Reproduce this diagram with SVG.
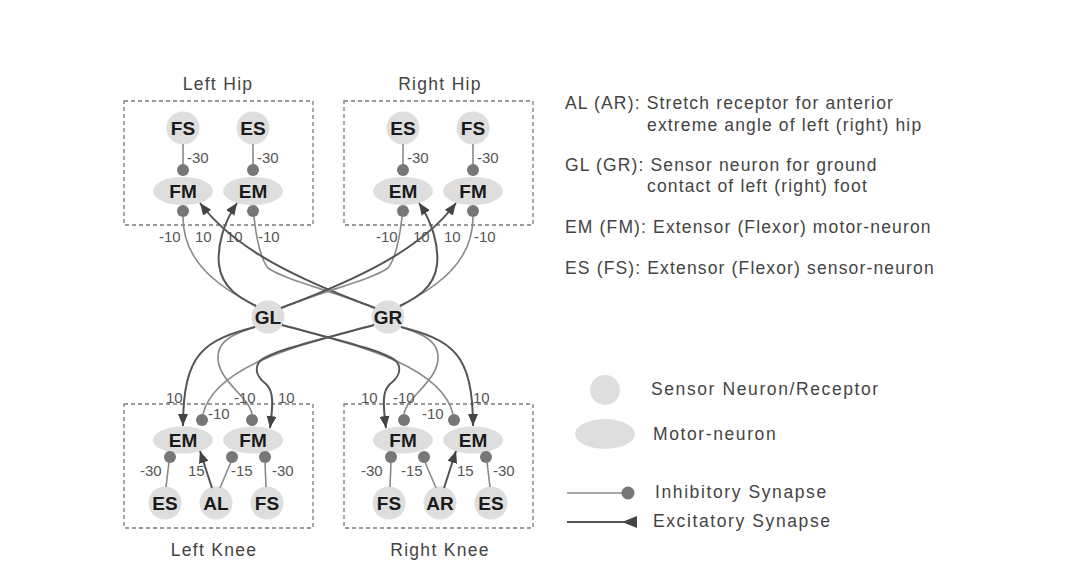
<svg xmlns="http://www.w3.org/2000/svg" xmlns:xlink="http://www.w3.org/1999/xlink" width="1065" height="583" viewBox="0 0 1065 583">
<defs>
<style>
.box{fill:none;stroke:#7a7a7a;stroke-width:1.3;stroke-dasharray:4 3}
.node{fill:#dedede}
.nl{font-family:"Liberation Sans",Arial,sans-serif;font-weight:bold;font-size:19px;fill:#1a1a1a;text-anchor:middle}
.w{font-family:"Liberation Sans",Arial,sans-serif;font-size:15px;fill:#555}
.ti{font-family:"Liberation Sans",Arial,sans-serif;font-size:17.5px;fill:#444;letter-spacing:1.3px;text-anchor:middle}
.t{font-family:"Liberation Sans",Arial,sans-serif;font-size:17.5px;fill:#444;letter-spacing:1.15px}
.lg{font-family:"Liberation Sans",Arial,sans-serif;font-size:17.5px;fill:#444;letter-spacing:1.6px}
.ex{fill:none;stroke:#555;stroke-width:2}
.in{fill:none;stroke:#8a8a8a;stroke-width:1.6}
.dot{fill:#777}
</style>
<marker id="arr" markerUnits="userSpaceOnUse" markerWidth="13" markerHeight="11" refX="12" refY="5" orient="auto">
<path d="M0,0 L12,5 L0,10 z" fill="#444"/>
</marker>
</defs>
<rect width="1065" height="583" fill="#fff"/>

<g id="boxes">
<rect class="box" x="124" y="101" width="189" height="124"/>
<rect class="box" x="344" y="101" width="189" height="124"/>
<rect class="box" x="124" y="404" width="189" height="124"/>
<rect class="box" x="344" y="404" width="189" height="124"/>
<text class="ti" x="218" y="90">Left Hip</text>
<text class="ti" x="440" y="90">Right Hip</text>
<text class="ti" x="214" y="556">Left Knee</text>
<text class="ti" x="440" y="556">Right Knee</text>
</g>

<g id="lh-fs"><circle class="node" cx="183" cy="128" r="16.5"/><text class="nl" x="183" y="135">FS</text></g>
<g id="lh-es"><circle class="node" cx="253" cy="128" r="16.5"/><text class="nl" x="253" y="135">ES</text></g>
<g id="lh-fm"><ellipse class="node" cx="183" cy="191" rx="30" ry="14"/><text class="nl" x="183" y="198">FM</text></g>
<g id="lh-em"><ellipse class="node" cx="253" cy="191" rx="30" ry="14"/><text class="nl" x="253" y="198">EM</text></g>
<g id="rh-es"><circle class="node" cx="403" cy="128" r="16.5"/><text class="nl" x="403" y="135">ES</text></g>
<g id="rh-fs"><circle class="node" cx="473" cy="128" r="16.5"/><text class="nl" x="473" y="135">FS</text></g>
<g id="rh-em"><ellipse class="node" cx="403" cy="191" rx="30" ry="14"/><text class="nl" x="403" y="198">EM</text></g>
<g id="rh-fm"><ellipse class="node" cx="473" cy="191" rx="30" ry="14"/><text class="nl" x="473" y="198">FM</text></g>
<g id="gl"><circle class="node" cx="268" cy="317" r="16.5"/><text class="nl" x="268" y="324">GL</text></g>
<g id="gr"><circle class="node" cx="388" cy="317" r="16.5"/><text class="nl" x="388" y="324">GR</text></g>
<g id="lk-em"><ellipse class="node" cx="183" cy="440" rx="30" ry="13.5"/><text class="nl" x="183" y="447">EM</text></g>
<g id="lk-fm"><ellipse class="node" cx="253" cy="440" rx="30" ry="13.5"/><text class="nl" x="253" y="447">FM</text></g>
<g id="lk-es"><circle class="node" cx="165" cy="503" r="16.5"/><text class="nl" x="165" y="510">ES</text></g>
<g id="lk-al"><circle class="node" cx="216" cy="503" r="16.5"/><text class="nl" x="216" y="510">AL</text></g>
<g id="lk-fs"><circle class="node" cx="267" cy="503" r="16.5"/><text class="nl" x="267" y="510">FS</text></g>
<g id="rk-fm"><ellipse class="node" cx="403" cy="440" rx="30" ry="13.5"/><text class="nl" x="403" y="447">FM</text></g>
<g id="rk-em"><ellipse class="node" cx="473" cy="440" rx="30" ry="13.5"/><text class="nl" x="473" y="447">EM</text></g>
<g id="rk-fs"><circle class="node" cx="389" cy="503" r="16.5"/><text class="nl" x="389" y="510">FS</text></g>
<g id="rk-ar"><circle class="node" cx="440" cy="503" r="16.5"/><text class="nl" x="440" y="510">AR</text></g>
<g id="rk-es"><circle class="node" cx="491" cy="503" r="16.5"/><text class="nl" x="491" y="510">ES</text></g>

<g id="connectors">
<g id="conn-left">
<line class="in" x1="183" y1="144" x2="183" y2="165"/><circle class="dot" cx="183" cy="170" r="6"/>
<line class="in" x1="253" y1="144" x2="253" y2="165"/><circle class="dot" cx="253" cy="170" r="6"/>
<path class="in" d="M183,217 C183,260 215,285 256,306"/>
<path class="ex" d="M256,306 C240,298 222,288 219,265 C217,245 224,222 237,203" marker-end="url(#arr)"/>
<path class="in" d="M375,308 C330,290 285,280 268,268 C260,258 256,235 254,217"/>
<path class="ex" d="M375,308 C300,280 235,250 200,203" marker-end="url(#arr)"/>
<circle class="dot" cx="183" cy="211" r="6"/>
<circle class="dot" cx="253" cy="211" r="6"/>
<path class="in" d="M255,327 C238,333 220,338 218,355 C216,380 248,395 252,414"/>
<path class="ex" d="M255,327 C205,340 183,352 183,426" marker-end="url(#arr)"/>
<path class="in" d="M374,325 C300,345 215,365 203,414"/>
<path class="ex" d="M374,325 C310,342 268,352 259,362 C254,370 258,378 266,384 C274,391 273,405 270,428" marker-end="url(#arr)"/>
<circle class="dot" cx="202" cy="420" r="6"/>
<circle class="dot" cx="252" cy="420" r="6"/>
<line class="in" x1="166" y1="487" x2="169" y2="462"/><circle class="dot" cx="170" cy="457" r="6"/>
<line class="ex" x1="212" y1="488" x2="200" y2="451" marker-end="url(#arr)"/>
<line class="in" x1="220" y1="488" x2="231" y2="462"/><circle class="dot" cx="232" cy="457" r="6"/>
<line class="in" x1="266" y1="487" x2="265" y2="462"/><circle class="dot" cx="265" cy="457" r="6"/>
</g>
<use href="#conn-left" xlink:href="#conn-left" transform="matrix(-1 0 0 1 656 0)"/>
</g>

<g id="weights">
<text class="w" x="187" y="163">-30</text>
<text class="w" x="257" y="163">-30</text>
<text class="w" x="407" y="163">-30</text>
<text class="w" x="477" y="163">-30</text>
<text class="w" x="159" y="242">-10</text>
<text class="w" x="195" y="242">10</text>
<text class="w" x="226" y="242">10</text>
<text class="w" x="258" y="242">-10</text>
<text class="w" x="376" y="242">-10</text>
<text class="w" x="413" y="242">10</text>
<text class="w" x="444" y="242">10</text>
<text class="w" x="474" y="242">-10</text>
<text class="w" x="166" y="403">10</text>
<text class="w" x="208" y="419">-10</text>
<text class="w" x="234" y="403">-10</text>
<text class="w" x="278" y="403">10</text>
<text class="w" x="361" y="403">10</text>
<text class="w" x="393" y="403">-10</text>
<text class="w" x="422" y="419">-10</text>
<text class="w" x="473" y="403">10</text>
<text class="w" x="140" y="476">-30</text>
<text class="w" x="188" y="476">15</text>
<text class="w" x="231" y="476">-15</text>
<text class="w" x="272" y="476">-30</text>
<text class="w" x="361" y="476">-30</text>
<text class="w" x="401" y="476">-15</text>
<text class="w" x="457" y="476">15</text>
<text class="w" x="493" y="476">-30</text>
</g>

<g id="legend-text">
<text class="t" x="565" y="109">AL (AR): Stretch receptor for anterior</text>
<text class="t" x="647" y="131">extreme angle of left (right) hip</text>
<text class="t" x="565" y="171">GL (GR): Sensor neuron for ground</text>
<text class="t" x="647" y="192">contact of left (right) foot</text>
<text class="t" x="565" y="233">EM (FM): Extensor (Flexor) motor-neuron</text>
<text class="t" x="565" y="274">ES (FS): Extensor (Flexor) sensor-neuron</text>
</g>

<g id="legend">
<circle class="node" cx="605" cy="390" r="15"/>
<text class="lg" x="651" y="395">Sensor Neuron/Receptor</text>
<ellipse class="node" cx="605" cy="434" rx="30" ry="15"/>
<text class="lg" x="653" y="440">Motor-neuron</text>
<line class="in" x1="567" y1="493" x2="622" y2="493" stroke-width="2"/>
<circle class="dot" cx="628" cy="493" r="6.5"/>
<text class="lg" x="655" y="498">Inhibitory Synapse</text>
<line class="ex" x1="567" y1="522" x2="630" y2="522" stroke-width="2.5"/>
<path d="M622,522 L637,516 L637,528 z" fill="#444"/>
<text class="lg" x="653" y="527">Excitatory Synapse</text>
</g>
</svg>
